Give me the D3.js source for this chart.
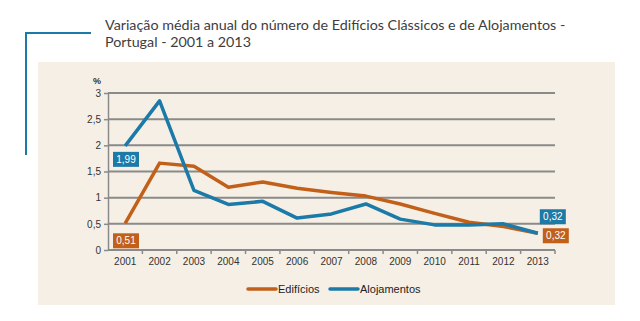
<!DOCTYPE html>
<html>
<head>
<meta charset="utf-8">
<script src="https://d3js.org/d3.v7.min.js"></script>
<style>
  body { margin: 0; background: white; }
</style>
</head>
<body>
<div id="my_dataviz"></div>
<script>
// data
var years = ["2001", "2002", "2003", "2004", "2005", "2006", "2007", "2008", "2009", "2010", "2011", "2012", "2013"];
var edificios = [0.51, 1.66, 1.60, 1.20, 1.30, 1.18, 1.10, 1.03, 0.88, 0.70, 0.53, 0.45, 0.32];
var alojamentos = [1.99, 2.85, 1.14, 0.87, 0.93, 0.61, 0.69, 0.88, 0.59, 0.48, 0.48, 0.50, 0.32];
var yTicks = [0, 0.5, 1, 1.5, 2, 2.5, 3];
var titleLines = ["Variação média anual do número de Edifícios Clássicos e de Alojamentos -", "Portugal - 2001 a 2013"];

var orange = "#c2601a", blue = "#1b7aa7";
var fmt = function (v) { return d3.format(".2f")(v).replace(".", ","); };

var svg = d3.select("#my_dataviz").append("svg")
    .attr("width", 640).attr("height", 321);

// decorative bracket
svg.append("path")
    .attr("d", "M91,33 H26 V155")
    .attr("fill", "none").attr("stroke", "#1b7aa7").attr("stroke-width", 2);

// panel
svg.append("rect").attr("x", 38).attr("y", 62).attr("width", 577).attr("height", 243)
    .attr("fill", "#f6efe5");

// title
svg.selectAll(".title").data(titleLines).enter().append("text")
    .attr("x", 105).attr("y", function (d, i) { return 30 + i * 17; })
    .text(function (d) { return d; })
    .style("font-family", "Lato").style("font-size", "14.3px").style("fill", "#3d3d3d");

var x = d3.scaleBand().domain(years).range([108, 555]);
var y = d3.scaleLinear().domain([0, 3]).range([250, 93]);

// gridlines
svg.append("g").selectAll("line").data(yTicks).enter().append("line")
    .attr("x1", 108).attr("x2", 555)
    .attr("y1", function (d) { return y(d); }).attr("y2", function (d) { return y(d); })
    .attr("stroke", "#8a8a8a").attr("stroke-width", 2);

// y axis
var yAxis = svg.append("g").attr("transform", "translate(108,0)")
    .call(d3.axisLeft(y).tickValues(yTicks).tickSize(4).tickSizeOuter(0)
        .tickFormat(function (d) { return String(d).replace(".", ","); }));
yAxis.select(".domain").attr("stroke", "#8a8a8a").attr("stroke-width", 1.5);
yAxis.selectAll(".tick line").attr("stroke", "#8a8a8a").attr("stroke-width", 1.5);
yAxis.selectAll("text").style("font-family", "Liberation Sans").style("font-size", "10px").style("fill", "#333");

svg.append("text").attr("x", 97).attr("y", 84).attr("text-anchor", "middle")
    .text("%").style("font-family", "Liberation Sans").style("font-size", "9px")
    .style("font-weight", "bold").style("fill", "#333");

// x axis
var xAxis = svg.append("g").attr("transform", "translate(0,250)")
    .call(d3.axisBottom(x).tickSize(0).tickPadding(8));
xAxis.select(".domain").remove();
xAxis.selectAll("text").style("font-family", "Liberation Sans").style("font-size", "10px").style("fill", "#333");
svg.append("g").selectAll("line").data(years).enter().append("line")
    .attr("x1", function (d) { return x(d) + x.bandwidth(); })
    .attr("x2", function (d) { return x(d) + x.bandwidth(); })
    .attr("y1", 250).attr("y2", 254)
    .attr("stroke", "#8a8a8a").attr("stroke-width", 1.5);

// lines
var line = d3.line()
    .x(function (d, i) { return x(years[i]) + x.bandwidth() / 2; })
    .y(function (d) { return y(d); });

svg.append("path").datum(edificios).attr("d", line)
    .attr("fill", "none").attr("stroke", orange).attr("stroke-width", 3.5).attr("stroke-linejoin", "round");
svg.append("path").datum(alojamentos).attr("d", line)
    .attr("fill", "none").attr("stroke", blue).attr("stroke-width", 3.5).attr("stroke-linejoin", "round");

// value labels
var labels = [
    { v: alojamentos[0], c: blue, x: x("2001") + 5, y: y(alojamentos[0]) + 6 },
    { v: edificios[0], c: orange, x: x("2001") + 5, y: y(edificios[0]) + 10 },
    { v: alojamentos[12], c: blue, x: x("2013") + x.bandwidth() / 2 + 2, y: y(alojamentos[12]) - 24 },
    { v: edificios[12], c: orange, x: x("2013") + x.bandwidth() / 2 + 5, y: y(edificios[12]) - 5 }
];
var lg = svg.append("g").selectAll("g").data(labels).enter().append("g")
    .attr("transform", function (d) { return "translate(" + d.x + "," + d.y + ")"; });
lg.append("rect").attr("width", 26).attr("height", 15).attr("fill", function (d) { return d.c; });
lg.append("text").attr("x", 13).attr("y", 11).attr("text-anchor", "middle")
    .text(function (d) { return fmt(d.v); })
    .style("font-family", "Liberation Sans").style("font-size", "10px").style("fill", "white");

// legend
var legend = [{ name: "Edifícios", c: orange, x: 248 }, { name: "Alojamentos", c: blue, x: 330 }];
var lgd = svg.append("g").selectAll("g").data(legend).enter().append("g")
    .attr("transform", function (d) { return "translate(" + d.x + ",289)"; });
lgd.append("line").attr("x1", 0).attr("x2", 28).attr("stroke", function (d) { return d.c; })
    .attr("stroke-width", 3.5).attr("stroke-linecap", "round");
lgd.append("text").attr("x", 30).attr("y", 4).text(function (d) { return d.name; })
    .style("font-family", "Liberation Sans").style("font-size", "11px").style("fill", "#222");
</script>
</body>
</html>
